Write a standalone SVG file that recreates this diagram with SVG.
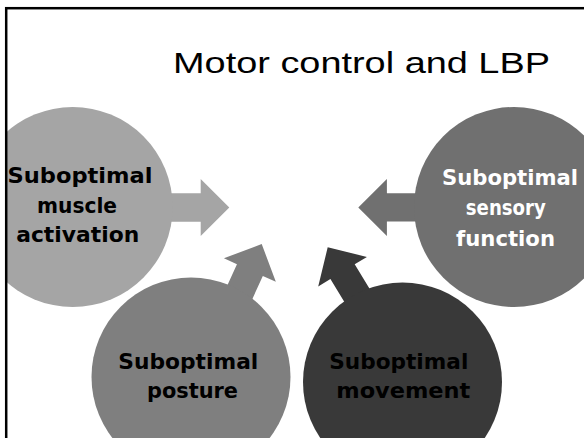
<svg xmlns="http://www.w3.org/2000/svg" xmlns:xlink="http://www.w3.org/1999/xlink" width="584" height="438" viewBox="0 0 584 438">
  <style>
    .title { font-family: "Liberation Sans", "DejaVu Sans", sans-serif; font-weight: normal; font-size: 30px; fill: #000; }
    .label { font-family: "DejaVu Sans", "Liberation Sans", sans-serif; font-weight: bold; font-size: 21px; text-anchor: middle; }
    .dark { fill: #000; }
    .light { fill: #fff; }
  </style>
  <defs>
    <!-- block arrow, tip at the origin, pointing along +x -->
    <path id="arrow" d="M0,0 L-28.6,-28.5 L-28.6,-14.2 L-90,-14.2 L-90,14.2 L-28.6,14.2 L-28.6,28.5 Z"/>
    <clipPath id="slide">
      <rect x="6" y="8" width="600" height="500"/>
    </clipPath>
  </defs>

  <rect x="0" y="0" width="584" height="438" fill="#fff"/>

  <g clip-path="url(#slide)">
    <text class="title" x="173" y="73" textLength="377" lengthAdjust="spacingAndGlyphs">Motor control and LBP</text>

    <g id="connectors">
      <use xlink:href="#arrow" href="#arrow" fill="#a5a5a5" transform="translate(229.3,207.5)"/>
      <use xlink:href="#arrow" href="#arrow" fill="#7f7f7f" transform="translate(261.7,244) rotate(-65.6)"/>
      <use xlink:href="#arrow" href="#arrow" fill="#393939" transform="translate(327.7,247.3) rotate(-121.3)"/>
      <use xlink:href="#arrow" href="#arrow" fill="#707070" transform="translate(358.3,207.4) rotate(180)"/>
    </g>

    <g id="muscle-activation">
      <circle cx="72.7" cy="207" r="100" fill="#a5a5a5"/>
      <text class="label dark" x="80" y="183" textLength="145" lengthAdjust="spacingAndGlyphs">Suboptimal</text>
      <text class="label dark" x="77" y="212.5" textLength="80" lengthAdjust="spacingAndGlyphs">muscle</text>
      <text class="label dark" x="77.7" y="242" textLength="123" lengthAdjust="spacingAndGlyphs">activation</text>
    </g>

    <g id="sensory-function">
      <circle cx="514" cy="207" r="100" fill="#707070"/>
      <text class="label light" x="510" y="185" textLength="136" lengthAdjust="spacingAndGlyphs">Suboptimal</text>
      <text class="label light" x="505.8" y="214.5" textLength="80" lengthAdjust="spacingAndGlyphs">sensory</text>
      <text class="label light" x="505.5" y="246" textLength="99" lengthAdjust="spacingAndGlyphs">function</text>
    </g>

    <g id="posture">
      <circle cx="191" cy="377" r="99.5" fill="#7f7f7f"/>
      <text class="label dark" x="188.3" y="369.3" textLength="140" lengthAdjust="spacingAndGlyphs">Suboptimal</text>
      <text class="label dark" x="192.5" y="398.3" textLength="91" lengthAdjust="spacingAndGlyphs">posture</text>
    </g>

    <g id="movement">
      <circle cx="402.5" cy="382" r="99.5" fill="#393939"/>
      <text class="label dark" x="398.8" y="369.3" textLength="139" lengthAdjust="spacingAndGlyphs">Suboptimal</text>
      <text class="label dark" x="403.3" y="398.3" textLength="134" lengthAdjust="spacingAndGlyphs">movement</text>
    </g>
  </g>

  <!-- slide frame -->
  <rect x="6.2" y="8.2" width="620" height="520" fill="none" stroke="#000" stroke-width="2.5"/>
</svg>
